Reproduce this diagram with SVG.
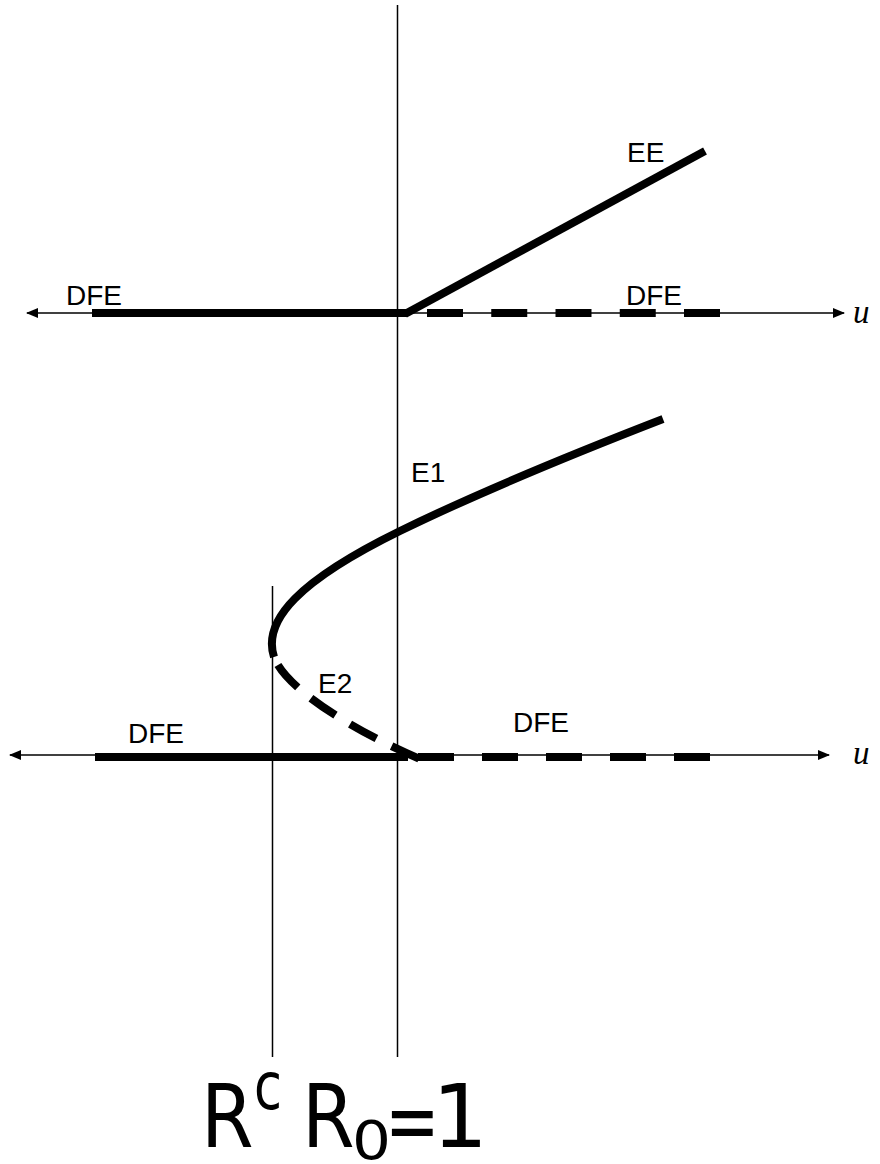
<svg xmlns="http://www.w3.org/2000/svg" width="880" height="1164" viewBox="0 0 880 1164">
<defs>
<style>
.thin{stroke:#000;stroke-width:1.5;fill:none}
.thick{stroke:#000;stroke-width:8;fill:none;stroke-linecap:butt}
.lbl{font-family:"Liberation Sans",Arial,sans-serif;font-size:28px;fill:#000}
.var{font-family:"Liberation Serif","Times New Roman",serif;font-style:italic;font-size:33px;fill:#000}
.big{font-family:"DejaVu Sans",sans-serif;fill:#000}
</style>
<marker id="arr" viewBox="0 0 12 10" refX="11" refY="5" markerWidth="12" markerHeight="10" markerUnits="userSpaceOnUse" orient="auto-start-reverse">
<path d="M0 0 L12 5 L0 10 Z" fill="#000"/>
</marker>
</defs>
<rect width="880" height="1164" fill="#fff"/>
<g id="connectors">
<line id="vline-R0" class="thin" x1="397.5" y1="5" x2="397.5" y2="1057"/>
<line id="vline-Rc" class="thin" x1="272.5" y1="586" x2="272.5" y2="1057"/>
<line id="axis-top" class="thin" x1="27" y1="313" x2="844" y2="313" marker-start="url(#arr)" marker-end="url(#arr)"/>
<line id="axis-bottom" class="thin" x1="10" y1="755" x2="829" y2="755" marker-start="url(#arr)" marker-end="url(#arr)"/>
</g>
<g id="top-DFE-stable">
<line class="thick" x1="92" y1="313" x2="407" y2="313"/>
<text class="lbl" x="66" y="305">DFE</text>
</g>
<g id="top-DFE-unstable">
<line class="thick" x1="427" y1="313" x2="722" y2="313" stroke-dasharray="36 28.25"/>
<text class="lbl" x="626" y="305">DFE</text>
</g>
<g id="EE">
<line class="thick" x1="405" y1="314" x2="705" y2="151"/>
<text class="lbl" x="627" y="162">EE</text>
</g>
<g id="E1">
<path class="thick" d="M274 657 C262 620 300 580 400 531 C480 492 570 455 663 419"/>
<text class="lbl" x="411" y="482">E1</text>
</g>
<g id="E2">
<path class="thick" d="M274 657 C286 690 360 735 432 764" stroke-dasharray="30 17" stroke-dashoffset="38"/>
<text class="lbl" x="318" y="693">E2</text>
</g>
<g id="bottom-DFE-stable">
<line class="thick" x1="95" y1="757" x2="408" y2="757"/>
<text class="lbl" x="128" y="743">DFE</text>
</g>
<g id="bottom-DFE-unstable">
<line class="thick" x1="418" y1="757" x2="712" y2="757" stroke-dasharray="36 28"/>
<text class="lbl" x="513" y="732">DFE</text>
</g>
<g id="axis-labels">
<text class="var" x="853" y="323">u</text>
<text class="var" x="853" y="764">u</text>
</g>
<g id="threshold-labels">
<text class="big" x="201" y="1147" font-size="88" textLength="52.6" lengthAdjust="spacingAndGlyphs">R</text>
<text class="big" x="254" y="1109" font-size="66" textLength="28" lengthAdjust="spacingAndGlyphs">c</text>
<text class="big" x="302" y="1147" font-size="88" textLength="52.6" lengthAdjust="spacingAndGlyphs">R</text>
<text class="big" x="352" y="1159" font-size="53" textLength="39" lengthAdjust="spacingAndGlyphs">0</text>
<text class="big" x="385" y="1151" font-size="88" textLength="54.6" lengthAdjust="spacingAndGlyphs">=</text>
<text class="big" x="432" y="1147" font-size="88">1</text>
</g>
</svg>
